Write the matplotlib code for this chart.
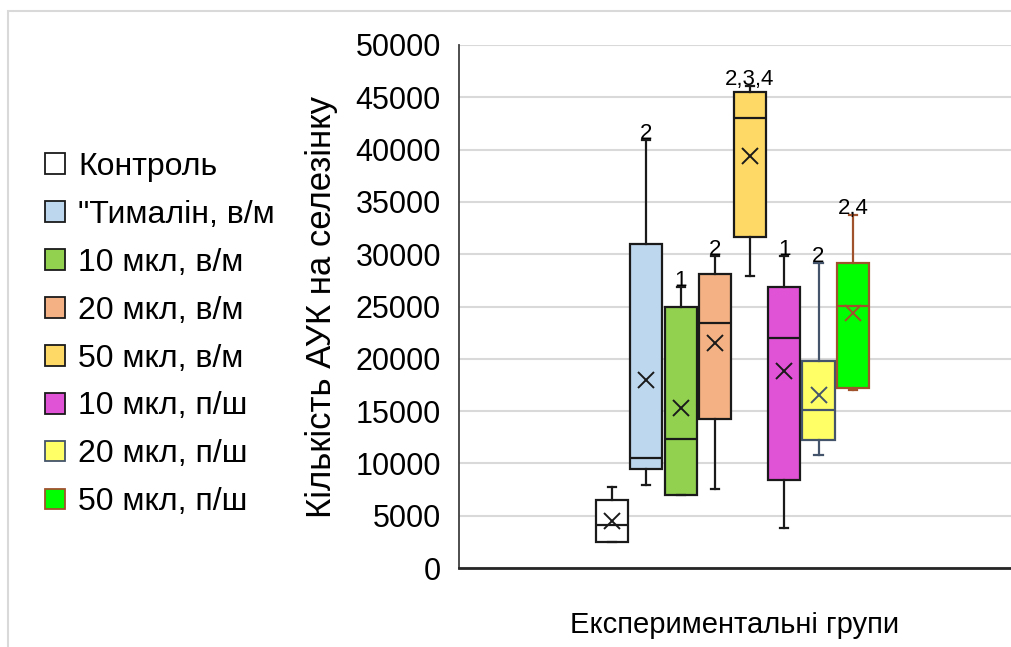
import matplotlib
matplotlib.use("Agg")
import matplotlib.pyplot as plt
from matplotlib.patches import Patch, Rectangle

plt.rcParams['font.family'] = ['Liberation Sans', 'DejaVu Sans']

groups = ["Контроль", "\"Тималін, в/м", "10 мкл, в/м", "20 мкл, в/м", "50 мкл, в/м",
          "10 мкл, п/ш", "20 мкл, п/ш", "50 мкл, п/ш"]
whisker_low = [2500, 7900, 7000, 7550, 27900, 3850, 10800, 17000]
q1 = [2500, 9500, 7000, 14250, 31600, 8400, 12250, 17250]
median = [4100, 10550, 12350, 23400, 43000, 21950, 15150, 25050]
q3 = [6500, 31000, 25000, 28100, 45550, 26900, 19750, 29200]
whisker_high = [7750, 40900, 26900, 29850, 46100, 29800, 29200, 33750]
means = [4450, 17950, 15250, 21550, 39400, 18850, 16550, 24350]
annotations = ["", "2", "1", "2", "2,3,4", "1", "2", "2,4"]

fill_colors = ["#FFFFFF", "#BDD7EE", "#92D050", "#F4B183", "#FFD966", "#E052D6", "#FFFF66", "#00FF00"]
edge_colors = ["#1A1A1A", "#1A1A1A", "#1A1A1A", "#1A1A1A", "#1A1A1A", "#1A1A1A", "#44546A", "#A0522D"]

fig = plt.figure(figsize=(10.12, 6.47), dpi=100)
W, H = 1012, 647
ax = fig.add_axes([459 / W, 1 - 568 / H, (1011 - 459) / W, (568 - 45) / H])

positions = list(range(len(groups)))
stats = []
for i in positions:
    stats.append(dict(whislo=whisker_low[i], q1=q1[i], med=median[i], q3=q3[i],
                      whishi=whisker_high[i], mean=means[i], fliers=[]))

for i in positions:
    ax.bxp([stats[i]], positions=[i], widths=0.93, patch_artist=True,
           showmeans=True, showfliers=False, capwidths=[0.24],
           boxprops=dict(facecolor=fill_colors[i], edgecolor=edge_colors[i], linewidth=1.6),
           medianprops=dict(color=edge_colors[i], linewidth=1.6),
           whiskerprops=dict(color=edge_colors[i], linewidth=1.6),
           capprops=dict(color=edge_colors[i], linewidth=1.6),
           meanprops=dict(marker='x', markeredgecolor=edge_colors[i], markersize=12,
                          markeredgewidth=1.4))
    if annotations[i]:
        ax.annotate(annotations[i], (i, whisker_high[i]), xytext=(0, -3),
                    textcoords='offset points', ha='center', va='bottom', fontsize=16)

ax.set_xlim(-4.44, 11.59)
ax.set_ylim(0, 50000)
ax.set_yticks(range(0, 50001, 5000))
ax.yaxis.grid(True, color="#D9D9D9", linewidth=1.5)
ax.set_axisbelow(True)
ax.set_xticks([])
ax.tick_params(axis='y', length=0, pad=13, labelsize=22)
for s in ['top', 'right']:
    ax.spines[s].set_visible(False)
ax.spines['left'].set_color('#404040')
ax.spines['left'].set_linewidth(1.3)
ax.spines['bottom'].set_color('#262626')
ax.spines['bottom'].set_linewidth(2)

ax.set_ylabel("Кількість АУК на селезінку", fontsize=25)
ax.yaxis.set_label_coords(-(459 - 338) / (1011 - 459), 0.5)
fig.text(735 / W, 1 - 625 / H, "Експериментальні групи", ha='center', va='center', fontsize=21)

handles = [Patch(facecolor=fill_colors[i], edgecolor=edge_colors[i], linewidth=1.3) for i in positions]
leg = fig.legend(handles, groups, loc='upper left', bbox_to_anchor=(45 / W, 1 - 152 / H),
                 frameon=False, fontsize=23, handlelength=0.62, handleheight=0.62,
                 handletextpad=0.42, labelspacing=0.56, borderaxespad=0, borderpad=0)

fig.patches.append(Rectangle((8 / W, -0.1), 1.2, 1 - 11 / H + 0.1, transform=fig.transFigure,
                             fill=False, edgecolor="#D9D9D9", linewidth=1.5))

fig.savefig("out.png", dpi=100)
